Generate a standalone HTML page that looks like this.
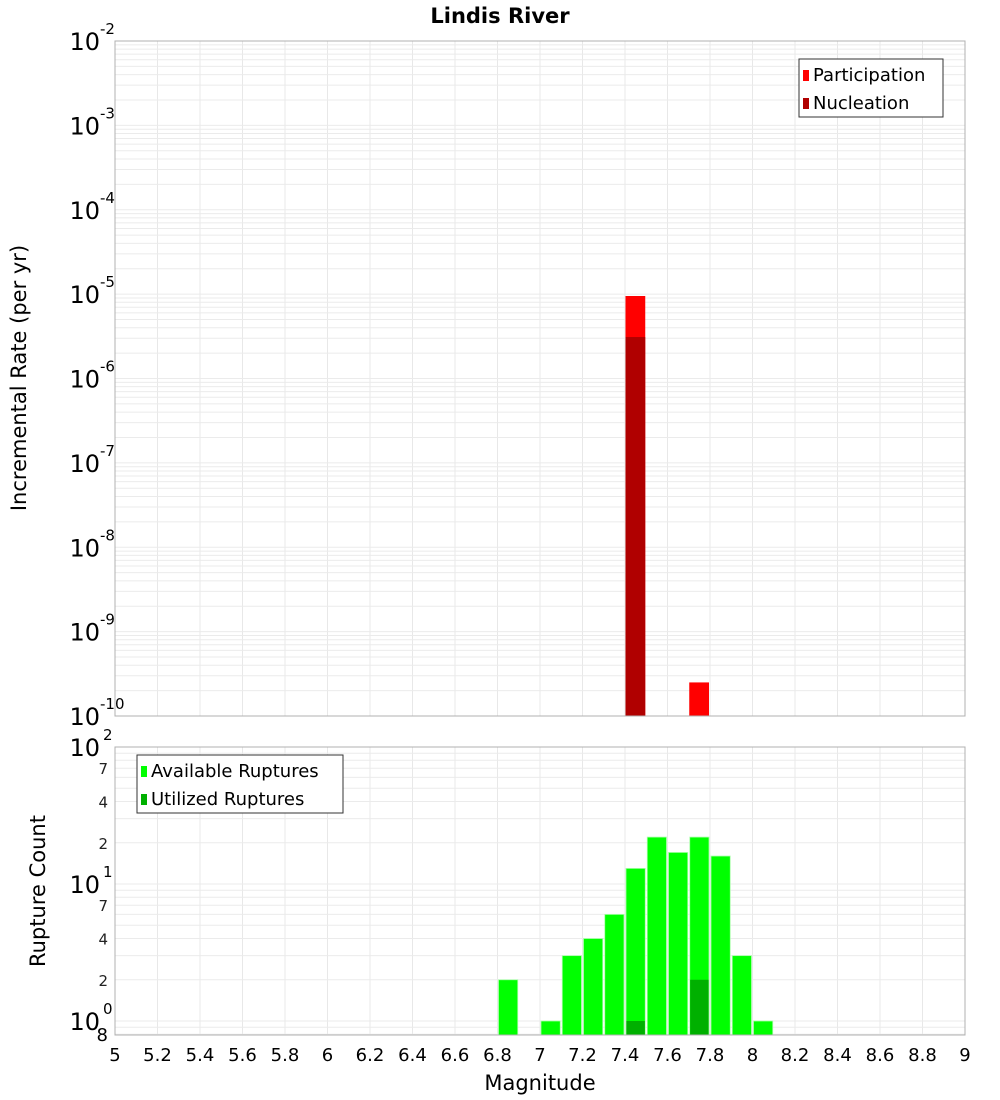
<!DOCTYPE html>
<html><head><meta charset="utf-8"><style>
html,body{margin:0;padding:0;background:#fff;}
svg{display:block;font-family:"DejaVu Sans","Liberation Sans",sans-serif;}
</style></head><body>
<svg id="chart" width="1000" height="1100"></svg>
<script>
const magBins = [7.45, 7.75];
const participation = [9.5e-6, 2.5e-10];
const nucleation = [3.1e-6, 0];
const countBins = [6.85, 7.05, 7.15, 7.25, 7.35, 7.45, 7.55, 7.65, 7.75, 7.85, 7.95, 8.05];
const available = [2, 1, 3, 4, 6, 13, 22, 17, 22, 16, 3, 1];
const utilized = [0, 0, 0, 0, 0, 1, 0, 0, 2, 0, 0, 0];
const xTicks = [5,5.2,5.4,5.6,5.8,6,6.2,6.4,6.6,6.8,7,7.2,7.4,7.6,7.8,8,8.2,8.4,8.6,8.8,9];
const topDecades = [-2,-3,-4,-5,-6,-7,-8,-9,-10];
const botMinorLabels = [2,4,7,20,40,70];

const NS="http://www.w3.org/2000/svg";
const svg=document.getElementById('chart');
function el(tag,attrs,parent){const e=document.createElementNS(NS,tag);for(const k in attrs)e.setAttribute(k,attrs[k]);(parent||svg).appendChild(e);return e;}
const L=115,R=965;
const x=m=>L+(m-5)/4*(R-L);
const T1=41,B1=716;
const y1=v=>T1+(-2-Math.log10(v))/8*(B1-T1);
const T2=747,B2=1035;
const y2=v=>1021-Math.log10(v)*137;

// title
const t=el('text',{x:500,y:23,'text-anchor':'middle','font-size':21,'font-weight':'bold'});
t.textContent='Lindis River';



function grid(T,B,yf,minV,maxV){
  for(const xt of xTicks){const l=el('line',{x1:x(xt),x2:x(xt),y1:T,y2:B,stroke:'#e8e8e8'});
    }
  for(let d=Math.floor(Math.log10(minV));d<Math.log10(maxV);d++){
    for(let k=1;k<10;k++){const v=k*Math.pow(10,d);if(v<minV||v>maxV)continue;const yy=yf(v);
      const l=el('line',{x1:L,x2:R,y1:yy,y2:yy,stroke:'#ebebeb'});
      }
  }
}
grid(T1,B1,y1,1e-10,1e-2);
grid(T2,B2,y2,0.79,100);

// top bars
participation.forEach((v,i)=>{if(v<=0)return;const yy=y1(v);
  const r=el('rect',{x:x(magBins[i]-0.05)+0.5,y:yy,width:x(0.1+5)-L-1.5,height:B1-yy,fill:'#ff0000'});
  });
nucleation.forEach((v,i)=>{if(v<=0)return;const yy=y1(v);
  const r=el('rect',{x:x(magBins[i]-0.05)+0.5,y:yy,width:x(0.1+5)-L-1.5,height:B1-yy,fill:'#b00000'});
  });

// bottom bars
available.forEach((v,i)=>{if(v<=0)return;const yy=y2(v);
  const r=el('rect',{x:x(countBins[i]-0.05)+1,y:yy,width:x(0.1+5)-L-2,height:B2-yy,fill:'#00ff00',stroke:'#aaffaa','stroke-width':0.8});
  });
utilized.forEach((v,i)=>{if(v<=0)return;const yy=y2(v);
  const r=el('rect',{x:x(countBins[i]-0.05)+1.4,y:yy,width:x(0.1+5)-L-2.8,height:B2-yy,fill:'#00b000'});
  });

// frames
const f1=el('rect',{x:L,y:T1,width:R-L,height:B1-T1,fill:'none',stroke:'#b0b0b0'});

const f2=el('rect',{x:L,y:T2,width:R-L,height:B2-T2,fill:'none',stroke:'#b0b0b0'});


// top y labels
topDecades.forEach(d=>{const yy=y1(Math.pow(10,d));
  const g=el('text',{x:100,y:yy+9,'text-anchor':'end','font-size':24});
  g.textContent='10';
  const s=el('text',{x:100,y:yy-7,'font-size':15});s.textContent=String(d);
  });

// bottom y labels
[[2,100],[1,10],[0,1]].forEach(([d,v])=>{const yy=y2(v);
  const g=el('text',{x:100,y:yy+9,'text-anchor':'end','font-size':24});
  g.textContent='10';
  const s=el('text',{x:103,y:yy-7,'font-size':15});s.textContent=String(d);
  });
botMinorLabels.forEach(v=>{const yy=y2(v);
  const g=el('text',{x:108,y:yy+6,'text-anchor':'end','font-size':15,fill:'#222'});
  g.textContent=String(v>=10?v/10:v);});
const e8=el('text',{x:108,y:1041,'text-anchor':'end','font-size':18});e8.textContent='8';


// x labels
xTicks.forEach(v=>{const g=el('text',{x:x(v),y:1061,'text-anchor':'middle','font-size':18});
  g.textContent=String(v);});
const xt=el('text',{x:540,y:1090,'text-anchor':'middle','font-size':21});xt.textContent='Magnitude';


const yt1=el('text',{x:0,y:0,'text-anchor':'middle','font-size':21,transform:'translate(26,378) rotate(-90)'});
yt1.textContent='Incremental Rate (per yr)';
const yt2=el('text',{x:0,y:0,'text-anchor':'middle','font-size':21,transform:'translate(45,891) rotate(-90)'});
yt2.textContent='Rupture Count';

// legends
function legend(bx,by,w,items,name){
  const g=el('g',{});
  el('rect',{x:bx,y:by,width:w,height:58,fill:'#fff',stroke:'#333'},g);
  items.forEach(([c,label],i)=>{
    el('rect',{x:bx+4,y:by+11+i*28,width:6,height:11,fill:c},g);
    const tx=el('text',{x:bx+14,y:by+22+i*28,'font-size':18},g);tx.textContent=label;
    
  });
}
legend(799,59,144,[['#ff0000','Participation'],['#b00000','Nucleation']],'top-legend');
legend(137,755,206,[['#00ff00','Available Ruptures'],['#00b000','Utilized Ruptures']],'bottom-legend');
</script>
</body></html>
